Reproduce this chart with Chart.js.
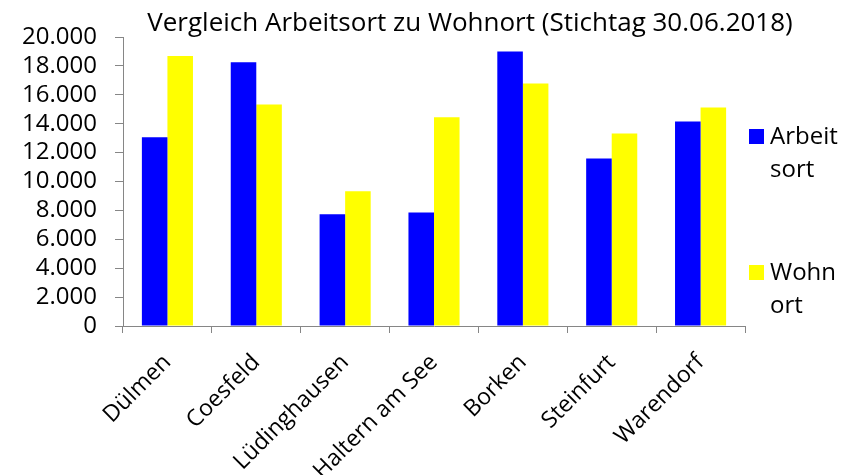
<!DOCTYPE html>
<html>
<head>
<meta charset="utf-8">
<script src="https://cdn.jsdelivr.net/npm/chart.js@4/dist/chart.umd.min.js"></script>
<style>
html,body{margin:0;padding:0;background:#fff;}
#wrap{position:relative;width:843px;height:475px;}
</style>
</head>
<body>
<div id="wrap"><canvas id="c" width="843" height="475"></canvas></div>
<script>
const titleText = 'Vergleich Arbeitsort zu Wohnort (Stichtag 30.06.2018)';
const categories = ['Dülmen','Coesfeld','Lüdinghausen','Haltern am See','Borken','Steinfurt','Warendorf'];
const arbeitsort = [13070, 18250, 7740, 7860, 18990, 11590, 14150];
const wohnort = [18690, 15330, 9330, 14450, 16780, 13320, 15120];
const seriesNames = ['Arbeitsort','Wohnort'];
const legendLines = [['Arbeit','sort'],['Wohn','ort']];
const yMin = 0, yMax = 20000, yStep = 2000;

const FONT = '"Open Sans", Lato, sans-serif';
const fmt = v => String(v).replace(/\B(?=(\d{3})+(?!\d))/g, '.');

const titlePlugin = {
  id: 'customTitle',
  afterDraw(chart) {
    const ctx = chart.ctx;
    ctx.save();
    ctx.font = '26px ' + FONT;
    ctx.fillStyle = '#000';
    ctx.textAlign = 'center';
    ctx.textBaseline = 'alphabetic';
    ctx.fillText(titleText, 470, 31);
    ctx.restore();
  }
};

const legendPlugin = {
  id: 'customLegend',
  afterDraw(chart) {
    const ctx = chart.ctx;
    ctx.save();
    ctx.font = '24px ' + FONT;
    ctx.textBaseline = 'alphabetic';
    const tops = [129, 265];
    chart.data.datasets.forEach((ds, i) => {
      const y = tops[i];
      ctx.fillStyle = ds.backgroundColor;
      ctx.fillRect(749, y, 15, 15);
      ctx.fillStyle = '#000';
      legendLines[i].forEach((ln, j) => {
        ctx.fillText(ln, 770, y + 15 + j * 32.5);
      });
    });
    ctx.restore();
  }
};

new Chart(document.getElementById('c'), {
  type: 'bar',
  data: {
    labels: categories,
    datasets: [
      { label: seriesNames[0], data: arbeitsort, backgroundColor: '#0000FF', borderWidth: 0 },
      { label: seriesNames[1], data: wohnort, backgroundColor: '#FFFF00', borderWidth: 0 }
    ]
  },
  options: {
    responsive: false,
    animation: false,
    layout: { padding: { top: 37, right: 98, left: 0, bottom: 0 } },
    datasets: { bar: { categoryPercentage: 0.575, barPercentage: 1 } },
    plugins: { legend: { display: false }, title: { display: false }, tooltip: { enabled: false } },
    scales: {
      x: {
        offset: true,
        grid: { offset: true, drawOnChartArea: false, drawTicks: true, tickLength: 7, color: '#868686' },
        border: { display: true, color: '#868686', width: 1 },
        ticks: { color: '#000', font: { family: FONT, size: 23 }, minRotation: 45, maxRotation: 45, padding: 16, labelOffset: 0, autoSkip: false },
        afterFit(s) { s.height = 149; }
      },
      y: {
        min: yMin, max: yMax,
        grid: { drawOnChartArea: false, drawTicks: true, tickLength: 8, color: '#868686' },
        border: { display: true, color: '#868686', width: 1 },
        ticks: { stepSize: yStep, autoSkip: false, color: '#000', font: { family: FONT, size: 24 }, padding: 18, callback: v => fmt(v) },
        afterFit(s) { s.width = 123; }
      }
    }
  },
  plugins: [titlePlugin, legendPlugin]
});
</script>
</body>
</html>
